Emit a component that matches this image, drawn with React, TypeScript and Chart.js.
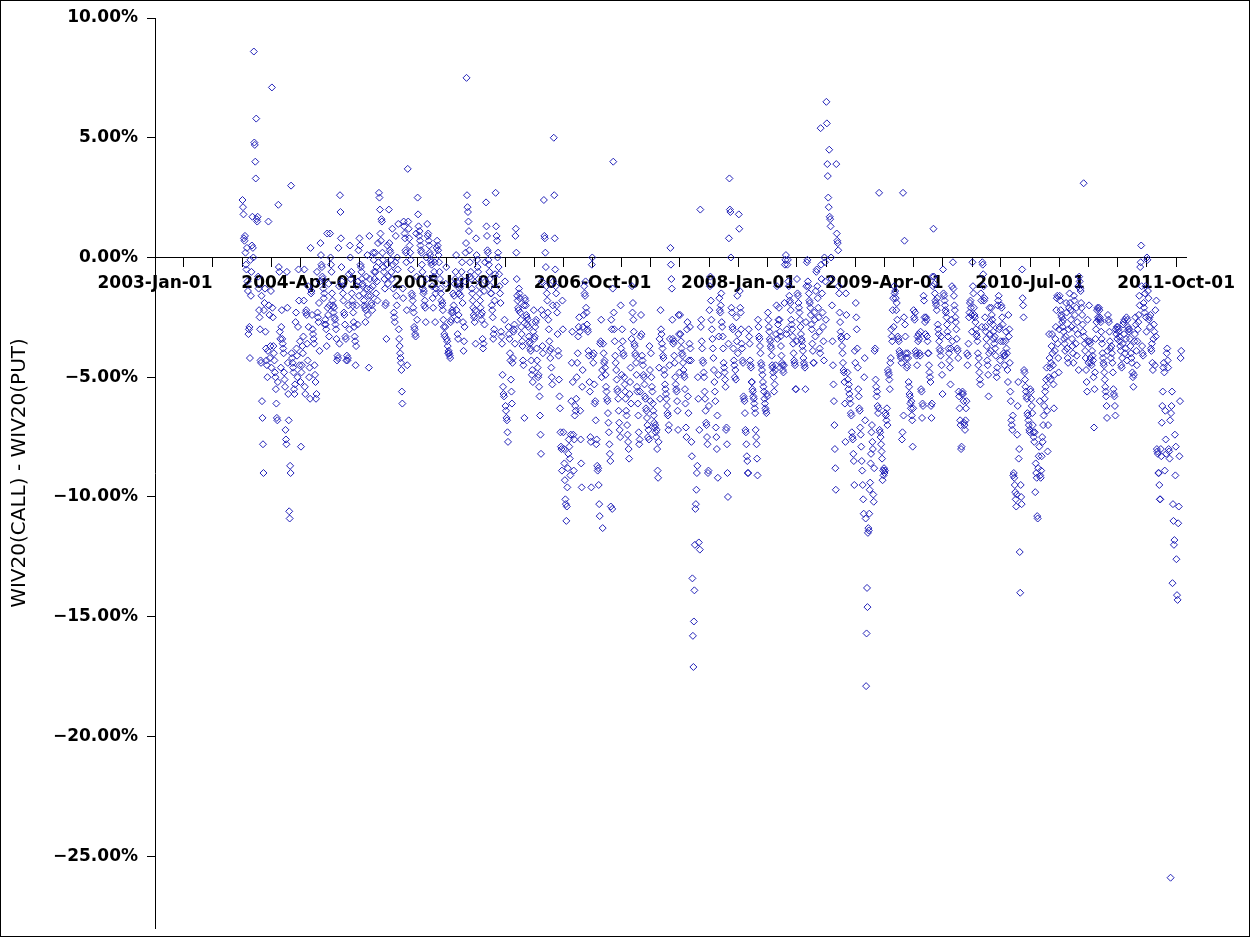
import React, { useEffect, useRef } from 'react';
import { Chart, registerables } from 'chart.js';

Chart.register(...registerables);

// Values (percent), one inner array per month.
// 2003: Oct..Dec
const y2003 = [
  [2.4, 2.1, 1.8, 0.8, 0.7, 0.9, 0.2, -0.3, -0.5, 0.4, -1.0, -1.4, -3.2, -3.0, -2.9, -4.2, -0.1, -1.6, -0.6, 0.5],
  [1.7, 0.4, 0.0, 8.6, 4.8, 4.7, 4.0, 3.3, 5.8, 1.6, 1.5, 1.7, -0.8, -1.3, -2.2, -2.5, -3.0, -4.3, -4.4, -1.6],
  [-6.0, -6.7, -7.8, -9.0, -2.2, -1.9, -1.3, -3.1, -3.8, -4.3, -4.5, -5.0, -3.9, 1.5, -2.0, -2.4, -4.2, -3.7, -1.4, -4.6],
];
const y2004 = [
  [7.1, -2.1, -2.5, -3.7, -4.0, -4.3, -4.8, -5.0, -5.5, -6.1, -6.7, -6.8, -5.2, 2.2, -0.4, -0.6, -3.1, -3.4, -4.6, -2.9],
  [-2.2, -3.4, -3.6, -3.8, -4.0, -4.8, -5.1, -5.4, -7.2, -7.6, -7.8, -0.6, -2.1, -4.4, -5.7, -6.8, -10.6, -10.9, -8.7, -9.0],
  [3.0, -4.0, -4.2, -4.4, -4.6, -4.8, -5.5, -5.7, -5.3, -2.7, -2.3, -3.8, -4.1, -5.0, -2.9, -0.5, -1.8, -4.5, -3.5, -5.2],
  [-7.9, -4.8, -4.5, -3.7, -4.0, -3.3, -1.8, -0.5, -5.4, -5.7, -2.3, -2.2, -2.4, -3.6, -4.3, -1.2, -2.9, -5.0, -4.6, -5.9],
  [0.4, -1.5, -1.4, -2.4, -3.0, -3.2, -3.4, -3.6, -4.5, -4.9, -5.2, -5.9, -5.7, -0.6, -2.3, -2.5, -2.7, -1.9, -3.9, -1.0],
  [0.6, 0.1, -0.3, -0.4, -0.8, -0.9, -1.3, -1.7, -1.5, -2.8, -2.6, -2.8, -3.0, -3.7, 1.0, -2.1, -2.4, -1.1, -3.3, -2.0],
  [1.0, 0.0, -0.3, -0.6, -1.5, -1.8, -2.0, -2.3, -2.1, -2.5, -2.6, -2.8, -3.0, -3.4, -4.3, -4.1, -4.2, 0.4, -1.2, -3.6],
  [2.6, 1.9, 0.8, -0.4, -1.0, -1.2, -1.5, -1.8, -2.3, -2.4, -2.8, -3.3, -3.4, -4.3, -4.1, -4.3, -4.2, -2.0, -0.7, -3.0],
  [0.5, 0.0, -0.9, -0.6, -1.5, -1.8, -2.0, -2.3, -2.7, -2.9, -3.3, -3.5, -4.5, -3.7, -2.0, -1.2, -2.8, -1.0, 0.3, -1.6],
  [0.8, 0.5, -0.3, -0.4, -0.6, -0.9, -1.1, -1.2, -1.5, -1.8, -2.0, -2.1, -2.7, -2.2, -0.8, -1.3, 0.1, -2.4, -1.6, -4.6],
  [0.9, -0.9, -1.3, -1.6, -1.9, -2.0, -2.2, -1.2, 0.2, -0.1, -0.6, -0.9, 0.2, -0.6, -1.5, -0.4, -1.0, -1.8, 0.6, -0.2],
  [2.7, 2.5, 2.0, 1.0, 0.7, 1.6, 1.5, 0.2, -0.1, -0.4, -0.6, -0.9, -1.3, -2.0, -1.9, -3.4, -0.3, 0.5, -1.1, -0.8],
];
const y2005 = [
  [2.0, 0.6, 0.3, 0.2, -0.1, -0.6, -0.9, 1.2, -0.3, -1.3, -2.3, -2.5, -2.7, -0.2, 0.9, -1.6, -2.0, 0.0, -0.5, 1.4],
  [-3.0, -3.4, -3.7, -4.0, -4.2, -4.4, -4.7, -5.6, -6.1, -1.3, -1.7, 1.5, 1.3, 1.0, 0.8, 0.3, 0.2, -0.2, -2.2, -4.5],
  [3.7, 1.5, 1.2, 0.8, 0.5, 0.2, -0.1, -0.5, -1.5, -1.6, -1.8, -2.1, -2.3, -2.9, -3.0, -3.2, -3.3, 1.0, -0.8, -2.6],
  [2.5, 1.8, 1.3, 0.9, 1.1, 0.7, 0.5, 0.3, 0.2, -0.3, -0.6, -1.3, -1.5, -1.4, -2.0, -1.8, -2.1, -2.7, 0.0, -0.9],
  [1.4, 0.9, 1.0, 0.7, 0.5, 0.2, 0.1, -0.1, -0.2, -0.3, -1.2, -1.7, -2.1, -0.8, -0.6, -0.2, -2.7, -1.5, -1.3, 0.4],
  [0.7, 0.5, 0.3, 0.1, -0.2, -0.6, -0.9, -1.3, -1.5, -1.8, -2.0, -1.9, -2.2, -2.6, -2.9, -3.2, -3.3, -2.9, -1.1, -0.4],
  [-3.4, -3.5, -3.7, -4.0, -3.9, -4.0, -4.1, -4.2, -2.7, -2.6, -2.3, -2.2, -2.3, -1.5, -2.0, -1.6, -1.1, -0.9, -0.6, 0.1],
  [-2.2, -2.6, -3.2, -3.4, -2.4, -1.5, -1.3, -1.2, -1.6, -0.9, -0.6, -0.2, -1.9, -2.7, -3.9, -3.5, -2.9, -1.0, 0.2, 0.6],
  [7.5, 2.6, 2.1, 1.9, 1.5, 1.1, 0.3, -0.2, -0.8, -0.6, -0.9, -1.3, -1.5, -1.8, -2.1, -2.4, -2.5, -2.7, -2.2, -3.6],
  [0.8, 0.1, -0.1, -0.4, -0.6, -0.9, -1.2, -1.5, -1.8, -2.1, -2.4, -2.6, -2.3, -3.4, -3.8, -3.6, -1.4, -2.8, -0.2, -1.0],
  [2.3, 1.3, 0.9, 0.3, 0.2, -0.1, -0.3, -0.6, -0.9, -1.2, -1.5, -1.5, -2.0, -2.2, -2.5, -3.4, -3.2, -3.0, -1.8, -0.7],
  [2.7, 1.3, 0.9, 0.7, 0.0, 0.2, -0.4, -0.7, -1.2, -1.5, -1.9, -3.1, -3.3, -3.6, -4.9, -5.4, -5.7, -5.8, -2.6, -1.0],
];
const y2006 = [
  [-6.2, -6.4, -6.7, -6.8, -7.3, -7.7, -2.9, -3.2, -3.4, -4.0, -4.3, -5.1, -5.6, -6.1, -4.4, -4.2, -3.1, -3.0, -2.8, -3.6],
  [0.9, 1.2, 0.2, -0.9, -1.6, -1.8, -2.1, -2.2, -1.3, -1.5, -1.7, -2.3, -2.6, -2.9, -3.2, -3.5, -3.7, -4.3, -4.5, -2.0],
  [-6.7, -1.7, -1.8, -2.0, -2.4, -2.5, -2.8, -2.6, -2.9, -3.3, -3.5, -3.6, -3.8, -3.9, -4.3, -4.9, -4.7, -5.2, -3.1, -2.2],
  [-3.4, -3.3, -2.9, -2.7, -2.6, -3.8, -4.3, -4.6, -5.0, -4.9, -5.4, -5.8, -6.6, -7.4, -8.2, -2.2, -1.0, -3.7, -4.0, -2.4],
  [2.4, 0.9, 0.8, 0.2, -0.4, -1.2, -1.5, -1.8, -2.3, -2.6, -3.0, -3.5, -3.9, -4.2, -3.8, -4.6, -5.0, -5.3, -2.0, -1.0],
  [5.0, 2.6, 0.8, -0.5, -1.2, -1.5, -2.0, -2.3, -3.2, -3.9, -4.1, -5.1, -5.8, -6.3, -7.3, -7.9, -8.0, -8.9, -1.8, -3.0],
  [-7.3, -8.0, -8.6, -9.3, -10.1, -10.3, -11.0, -10.4, -9.6, -8.8, -8.2, -7.6, -7.9, -8.4, -9.1, -7.4, -6.0, -4.4, -3.1, -5.2],
  [-7.4, -8.9, -7.6, -6.6, -6.2, -6.4, -5.9, -5.0, -4.4, -4.0, -3.3, -2.9, -2.5, -3.1, -6.4, -7.6, -8.6, -9.6, -5.4, -4.7],
  [-2.9, -2.4, -1.2, -1.5, -1.6, -1.0, -2.1, -2.3, -2.8, -3.0, -3.1, -3.9, -4.1, -5.2, -5.6, -7.5, -7.7, -9.6, -0.3, 0.0],
  [-4.1, -4.4, -4.0, -5.3, -6.1, -6.0, -6.8, -7.8, -7.6, -8.7, -8.9, -8.8, -9.5, -10.3, -10.8, -3.6, -3.5, -2.6, -5.0, -4.7],
  [-11.3, -3.6, -4.0, -4.4, -4.3, -4.6, -4.9, -5.4, -5.6, -5.9, -6.0, -6.5, -6.9, -7.3, -7.8, -8.2, -8.5, -10.4, -2.6, -3.0],
  [-10.5, -1.3, 4.0, -2.3, -3.0, -3.5, -4.1, -4.4, -4.7, -5.1, -5.5, -5.6, -5.9, -6.4, -6.9, -7.2, -7.5, -2.0, -3.8, -4.9],
];
const y2007 = [
  [-3.0, -3.5, -4.0, -4.1, -5.0, -5.3, -5.6, -5.9, -6.4, -6.6, -7.0, -7.4, -7.7, -8.0, -8.4, -5.7, -5.2, -4.6, -6.1, -3.4],
  [-1.2, -2.3, -1.9, -2.6, -3.1, -3.6, -3.7, -4.0, -4.1, -4.4, -4.9, -5.4, -5.6, -6.1, -6.6, -7.3, -7.8, -7.6, -5.6, -3.3],
  [-2.4, -3.2, -4.1, -4.3, -4.5, -4.9, -5.0, -5.3, -5.8, -5.9, -6.3, -6.4, -6.7, -7.0, -7.5, -7.2, -7.6, -3.7, -4.7, -6.0],
  [-4.0, -5.0, -5.4, -5.6, -6.1, -6.4, -6.6, -6.9, -7.1, -7.0, -7.3, -7.5, -7.2, -8.0, -8.9, -9.2, -7.7, -4.6, -3.4, -5.9],
  [-2.2, -3.0, -3.2, -3.6, -3.8, -4.1, -4.2, -4.7, -4.9, -5.3, -5.5, -5.7, -5.9, -6.2, -6.5, -6.6, -7.2, -7.0, -4.5, -3.4],
  [0.4, -0.3, -0.9, -1.3, -2.6, -3.4, -3.6, -3.5, -4.1, -4.4, -5.0, -5.3, -5.5, -5.6, -6.0, -6.4, -7.2, -2.4, -3.2, -4.8],
  [-2.4, -3.2, -3.5, -3.8, -4.0, -4.1, -4.4, -4.7, -4.9, -5.0, -5.5, -6.1, -7.1, -7.5, -3.0, -2.7, -5.8, -6.5, -4.3, -3.6],
  [-2.9, -3.8, -4.3, -7.7, -8.3, -13.4, -15.8, -17.1, -15.2, -13.9, -12.0, -10.5, -10.3, -9.7, -9.0, -8.7, -5.0, -5.9, -11.9, -7.2],
  [-12.2, 2.0, -2.9, -2.6, -3.5, -3.8, -4.3, -4.4, -4.8, -5.0, -5.6, -5.9, -6.4, -6.9, -7.0, -7.5, -7.8, -9.0, -8.9, -6.2],
  [-2.2, -1.2, -0.8, -1.8, -2.6, -3.0, -3.4, -3.8, -4.2, -4.7, -5.2, -5.6, -6.0, -7.1, -7.5, -8.0, -6.6, -9.2, -4.9, -3.3],
  [-1.7, -2.2, -2.3, -2.0, -1.5, -2.7, -2.9, -3.3, -3.8, -4.4, -4.6, -4.8, -5.1, -5.4, -7.2, -7.1, -7.8, -9.0, -10.0, -3.6],
  [0.8, 3.3, 2.0, 1.9, 0.0, -2.1, -2.3, -2.9, -3.0, -3.8, -4.3, -4.5, -5.0, -4.7, -5.1, -2.5, -3.5, -1.6, -4.0, -3.2],
];
const y2008 = [
  [1.8, 1.2, -1.4, -2.1, -2.3, -3.0, -3.6, -3.8, -4.3, -4.4, -5.8, -5.9, -6.0, -6.5, -7.2, -7.3, -7.8, -8.3, -8.5, -9.0, -9.0],
  [-3.0, -3.3, -3.6, -4.3, -4.5, -4.6, -5.2, -5.2, -5.5, -5.6, -5.8, -5.9, -6.1, -6.3, -6.5, -7.2, -7.5, -7.8, -8.4, -9.1],
  [-2.6, -2.9, -3.3, -3.4, -3.7, -4.0, -4.4, -4.5, -4.7, -4.9, -5.2, -5.4, -5.6, -5.9, -6.1, -6.3, -6.4, -6.5, -5.7, -5.8],
  [-2.3, -2.6, -2.9, -3.1, -3.4, -3.5, -3.7, -3.8, -4.1, -4.5, -4.6, -4.8, -5.0, -5.6, -5.3, -4.7, -4.5, -3.2, -2.0, -1.2],
  [-3.4, -2.8, -2.6, -2.1, -2.6, -3.1, -3.3, -3.7, -4.1, -4.4, -4.5, -4.7, -4.8, -4.5, -1.9, -0.3, -0.1, 0.1, -3.2, -3.0],
  [-0.3, -0.1, -1.0, -1.2, -1.6, -1.8, -1.9, -2.2, -2.6, -2.8, -3.0, -3.3, -3.6, -4.0, -4.3, -4.4, -4.5, -5.5, -5.5, -3.5],
  [-0.9, -1.5, -1.6, -1.9, -2.1, -2.3, -2.6, -2.9, -3.2, -3.4, -3.5, -3.7, -3.9, -4.2, -4.4, -4.5, -4.6, -5.5, -2.7, -1.2],
  [-0.2, -0.1, -1.0, -1.2, -1.5, -1.8, -1.9, -2.1, -2.4, -2.8, -3.0, -3.6, -3.9, -4.4, -4.4, -2.3, -2.6, -3.3, -1.4, -0.6],
  [-0.5, -1.2, -1.7, -2.1, -2.5, -3.1, -3.8, -4.0, 5.4, -0.3, -0.9, -1.5, -2.3, -2.9, -3.5, -4.3, 0.0, -0.2, -1.0, -2.6],
  [6.5, 5.6, 3.9, 3.4, 2.5, 2.1, 4.5, 1.7, 1.6, 1.3, 0.0, -0.9, -2.0, -3.5, -4.5, -5.3, -6.0, -7.0, -8.0, -8.8, -9.7],
  [3.9, 1.0, 0.7, 0.6, 0.3, -1.2, -1.5, -2.3, -2.7, -3.1, -3.3, -3.4, -3.7, -4.0, -4.4, -4.7, -4.8, -5.2, -6.1, -7.7],
  [-1.5, -2.4, -3.3, -4.8, -5.1, -5.5, -5.3, -5.7, -5.9, -6.1, -6.5, -6.6, -7.3, -7.5, -7.6, -8.2, -8.5, -9.5, -3.9, -4.4],
];
const y2009 = [
  [-1.9, -2.5, -3.0, -3.8, -4.6, -5.5, -5.8, -6.3, -6.4, -7.1, -7.4, -7.9, -8.5, -8.9, -9.5, -10.1, -10.7, -5.0, -4.2, -6.8],
  [-10.9, -17.9, -15.7, -13.8, -14.6, -11.5, -11.3, -11.4, -10.7, -9.7, -9.4, -8.6, -8.2, -7.3, -7.0, -7.7, -8.0, -9.9, -10.2, -8.8],
  [-3.9, -3.8, -5.1, -5.4, -5.8, -5.6, -6.2, -6.5, -6.3, 2.7, -7.2, -7.3, -7.5, -7.8, -8.1, -8.4, -9.3, -8.9, -9.1, -8.8],
  [-9.0, -8.9, -6.5, -6.6, -6.8, -6.3, -7.0, -4.7, -4.8, -4.9, -5.1, -5.5, -4.4, -4.2, -3.0, -3.3, -3.5, -2.2, -1.7, -2.9],
  [-1.2, -1.5, -1.4, -1.7, -2.2, -1.9, -2.6, -3.3, -3.4, -3.5, -3.9, -4.0, -4.1, -4.2, -4.4, -7.6, -7.3, 2.7, -6.6],
  [-2.5, 0.7, -2.8, -3.3, -4.0, -4.2, -4.6, -4.5, -4.0, -4.2, -5.2, -5.4, -5.7, -5.8, -6.1, -6.3, -6.0, -6.6, -6.8, -7.9, -6.3],
  [-2.2, -2.5, -2.6, -2.3, -3.9, -4.0, -4.1, -4.5, -3.3, -3.5, -3.2, -3.4, -4.0, -4.1, -3.1, -5.5, -5.6, -6.7, -6.1, -6.2],
  [-1.6, -1.8, -2.5, -2.7, -3.2, -2.5, -2.6, -3.3, -3.5, -4.0, -4.0, -4.5, -4.8, -5.0, -5.2, -6.2, -6.7, -6.1, -0.8, -1.2],
  [1.2, -0.8, -1.1, -1.5, -1.8, -1.9, -2.0, -2.2, -1.7, -2.8, -3.0, -3.2, -3.5, -3.8, -3.9, -4.1, -3.3, -4.5, -4.9, -5.7],
  [-0.5, -1.5, -1.6, -1.8, -2.0, -2.2, -2.3, -2.5, -2.8, -3.1, -3.3, -3.8, -4.0, -4.3, -4.6, -5.3, -3.8, -2.6, -1.2, -3.5],
  [-0.2, -1.3, -1.6, -2.0, -2.2, -2.5, -2.7, -3.0, -3.4, -3.8, -3.9, -4.2, -5.6, -5.8, -6.3, -6.8, -7.0, -8.0, -7.9, -5.7],
  [-5.6, -5.7, -6.0, -6.9, -7.0, -7.2, -6.8, -6.3, -6.0, -4.0, -4.5, -4.1, -3.6, -2.5, -2.3, -1.9, -1.8, -2.1, -2.4, -3.1],
];
const y2010 = [
  [-0.2, -1.2, -1.5, -2.1, -2.4, -2.5, -2.7, -3.0, -3.2, -3.3, -3.5, -4.0, -4.5, -4.2, -4.8, -5.1, -5.3, -1.5, -1.8, -2.9],
  [-0.2, -0.3, -0.7, -1.2, -1.8, -1.7, -2.5, -2.9, -3.1, -3.4, -3.7, -4.3, -4.5, -4.9, -5.8, -4.0, -2.1, -3.2, -2.7, -3.9],
  [-2.1, -2.4, -2.6, -2.8, -3.1, -3.4, -3.6, -3.3, -3.8, -4.1, -4.8, -5.0, -4.6, -2.0, -1.8, -1.6, -3.0, -2.9, -4.3, -3.5],
  [-2.0, -2.1, -2.5, -2.8, -3.5, -4.0, -4.1, -4.5, -4.1, -3.5, -3.1, -3.8, -4.0, -4.7, -5.2, -2.4, -3.3, -3.0, -4.4, -5.6],
  [-6.0, -6.8, -7.0, -7.2, -6.6, -9.1, -9.0, -9.2, -9.5, -9.8, -10.1, -10.4, -9.9, -7.4, -6.2, -5.2, -8.4, -8.0, -12.3, -14.0],
  [-9.5, -10.0, -10.3, -0.5, -1.7, -2.0, -2.5, -4.7, -4.8, -5.1, -5.4, -5.6, -5.8, -5.9, -6.5, -6.6, -6.8, -7.0, -7.2, -7.3],
  [-5.5, -5.6, -5.9, -6.2, -6.5, -7.0, -7.3, -7.5, -7.7, -7.3, -9.8, -8.6, -9.0, -9.2, -10.8, -10.9, -8.8, -8.3, -7.9, -6.0],
  [-9.1, -9.2, -8.9, -8.3, -7.5, -7.7, -7.0, -6.6, -6.2, -5.9, -5.6, -5.4, -5.1, -4.6, -6.4, -8.1, -7.0, -5.0, -3.2, -4.2],
  [-4.6, -5.1, -4.4, -3.7, -3.2, -4.0, -4.5, -5.3, -6.3, -4.9, -3.9, -3.4, -2.9, -2.2, -1.7, -1.6, -3.6, -4.2, -4.8, -3.0],
  [-1.6, -1.8, -2.2, -2.4, -2.5, -2.7, -2.9, -2.6, -3.1, -3.4, -3.6, -3.9, -3.3, -1.9, -2.3, -3.8, -4.2, -4.4, -3.0, -2.1],
  [-1.5, -1.9, -2.2, -2.6, -2.9, -3.4, -3.7, -4.0, -4.4, -1.6, -1.8, -2.4, -3.0, -3.6, -2.1, -4.1, -2.7, -3.2, -1.2, -4.7],
  [-0.8, -1.0, -1.3, -1.4, -1.9, -2.1, -2.4, -2.8, -3.1, 3.1, -3.3, -3.6, -3.9, -4.2, -4.7, -5.2, -5.6, -2.6, -3.5, -4.4],
];
// 2011: Jan..Oct (October is partial)
const y2011 = [
  [-2.0, -3.5, -3.6, -4.2, -4.4, -4.5, -3.9, -4.1, -4.3, -5.0, -7.1, -5.5, -4.8, -3.4, -3.0, -2.7, -2.2, -2.1, -2.5, -2.6],
  [-2.1, -2.2, -2.5, -2.6, -2.7, -3.1, -3.4, -3.6, -4.0, -4.2, -4.4, -4.5, -4.8, -5.1, -5.4, -5.6, -5.8, -6.2, -6.7, -3.9],
  [-2.4, -2.6, -2.7, -3.1, -3.5, -3.8, -4.2, -3.7, -4.0, -4.4, -4.8, -5.5, -5.7, -5.8, -6.2, -6.6, -3.0, -3.2, -2.9, -3.4],
  [-2.9, -3.0, -3.1, -3.3, -3.5, -3.7, -3.9, -4.5, -4.6, -4.2, -3.6, -2.8, -2.7, -3.2, -2.6, -4.0, -3.8, -3.4, -2.5, -4.3],
  [-2.6, -2.9, -3.0, -3.1, -3.0, -3.4, -3.7, -4.0, -4.2, -4.4, -4.8, -5.0, -5.4, -4.9, -3.5, -3.2, -2.5, -2.8, -3.9, -4.5],
  [-3.5, -3.0, -2.7, -2.4, -1.6, -2.0, -0.4, -0.2, 0.5, -1.2, -3.7, -4.0, -4.1, -1.9, -2.1, -2.3, -1.5, -1.2, -2.5, -3.1],
  [0.0, -0.1, -1.4, -1.7, -2.6, -2.5, -2.9, -2.4, -3.8, -3.9, -3.6, -4.4, -4.7, -3.4, -2.8, -3.1, -4.5, -2.2, -3.3, -1.8],
  [-8.0, -8.1, -8.2, -9.0, -9.0, -9.5, -10.1, -10.1, -8.0, -8.3, -6.9, -6.2, -5.6, -4.6, -4.4, -4.8, -8.9, -6.4, -7.6, -8.2],
  [-4.0, -3.8, -4.3, -4.6, -8.0, -8.1, -8.4, -6.8, -25.9, -6.5, -6.2, -5.6, -13.6, -10.3, -11.0, -12.0, -11.8, -7.4, -9.1, -7.9],
  [-12.6, -14.1, -14.3, -11.1, -10.4, -8.3, -6.0, -4.2, -3.9],
];

const firstYear = 2003;
const firstMonth = 9; // October 2003
const dataEnd = Date.UTC(2011, 9, 18);
const xMin = Date.UTC(2003, 0, 1);
const xMax = Date.UTC(2011, 10, 1);
const lastTick = Date.UTC(2011, 9, 1);
const yTicks = [-25, -20, -15, -10, -5, 0, 5, 10];
const monthNames = ['Jan', 'Feb', 'Mar', 'Apr', 'May', 'Jun', 'Jul', 'Aug', 'Sep', 'Oct', 'Nov', 'Dec'];
const yearBlocks = [y2003, y2004, y2005, y2006, y2007, y2008, y2009, y2010, y2011];

function buildPoints() {
  const pts: { x: number; y: number }[] = [];
  let yr = firstYear;
  let mo = firstMonth;
  for (const block of yearBlocks) {
    for (const vals of block) {
      const s = Date.UTC(yr, mo, 1);
      let e = Date.UTC(yr, mo + 1, 1);
      if (e > dataEnd) e = dataEnd;
      vals.forEach((v, i) => pts.push({ x: s + ((i + 0.5) * (e - s)) / vals.length, y: v }));
      mo++;
      if (mo === 12) { mo = 0; yr++; }
    }
  }
  return pts;
}

function buildXTicks() {
  const t: number[] = [];
  let yr = 2003, mo = 0;
  while (Date.UTC(yr, mo, 1) <= lastTick) {
    t.push(Date.UTC(yr, mo, 1));
    mo += 3;
    if (mo >= 12) { mo -= 12; yr++; }
  }
  return t;
}

const FONT = 'DejaVu Sans';

export default function App() {
  const ref = useRef<HTMLCanvasElement | null>(null);
  useEffect(() => {
    document.body.style.margin = '0';
    const canvas = ref.current;
    if (!canvas) return;
    const xTicks = buildXTicks();
    const framePlugin = {
      id: 'frame',
      beforeDraw(chart: any) {
        const { ctx, width, height } = chart;
        ctx.save();
        ctx.fillStyle = '#ffffff';
        ctx.fillRect(0, 0, width, height);
        ctx.restore();
      },
      afterDraw(chart: any) {
        const { ctx, width, height } = chart;
        ctx.save();
        ctx.strokeStyle = '#000000';
        ctx.lineWidth = 1;
        ctx.strokeRect(0.5, 0.5, width - 1, height - 1);
        ctx.restore();
      },
    };
    const chart = new Chart(canvas, {
      type: 'scatter',
      data: {
        datasets: [
          {
            data: buildPoints(),
            pointStyle: 'rectRot',
            pointRadius: 3.5,
            pointHoverRadius: 3.5,
            pointBorderWidth: 1,
            borderColor: 'rgb(35,35,185)',
            backgroundColor: 'rgba(0,0,0,0)',
            showLine: false,
          },
        ],
      },
      options: {
        animation: false,
        responsive: false,
        events: [],
        layout: { padding: { left: 0, right: 64, top: 18, bottom: 9 } },
        plugins: { legend: { display: false }, tooltip: { enabled: false } },
        scales: {
          x: {
            type: 'linear',
            position: { y: 0 } as any,
            min: xMin,
            max: xMax,
            afterBuildTicks: (s: any) => {
              s.ticks = xTicks.map((v) => ({ value: v }));
            },
            ticks: {
              autoSkip: false,
              maxRotation: 0,
              minRotation: 0,
              padding: 7,
              color: '#000000',
              font: { family: FONT, size: 17, weight: 'bold' },
              callback: (v: any, i: number) => {
                if (i % 5 !== 0) return '';
                const d = new Date(Number(v));
                return `${d.getUTCFullYear()}-${monthNames[d.getUTCMonth()]}-01`;
              },
            },
            grid: { drawOnChartArea: false, drawTicks: true, tickLength: 9, color: '#000000', tickColor: '#000000', tickWidth: 1 },
            border: { display: true, color: '#000000', width: 1 },
          },
          y: {
            type: 'linear',
            position: 'left',
            min: -28,
            max: 10,
            afterBuildTicks: (s: any) => {
              s.ticks = yTicks.map((v) => ({ value: v }));
            },
            afterFit: (s: any) => {
              s.width = 155;
              s.paddingTop = 0;
              s.paddingBottom = 0;
            },
            ticks: {
              padding: 9,
              color: '#000000',
              font: { family: FONT, size: 17, weight: 'bold' },
              callback: (v: any) => {
                const n = Number(v);
                return (n < 0 ? '\u2212' : '') + Math.abs(n).toFixed(2) + '%';
              },
            },
            grid: { drawOnChartArea: false, drawTicks: true, tickLength: 8, color: '#000000', tickColor: '#000000', tickWidth: 1 },
            border: { display: true, color: '#000000', width: 1 },
            title: {
              display: true,
              text: 'WIV20(CALL) - WIV20(PUT)',
              color: '#000000',
              font: { family: FONT, size: 20, weight: 'normal' },
              padding: { top: 8, bottom: 0 },
            },
          },
        },
      },
      plugins: [framePlugin],
    } as any);
    return () => chart.destroy();
  }, []);
  return (
    <div style={{ width: 1250, height: 937 }}>
      <canvas ref={ref} width={1250} height={937} style={{ display: 'block' }} />
    </div>
  );
}
